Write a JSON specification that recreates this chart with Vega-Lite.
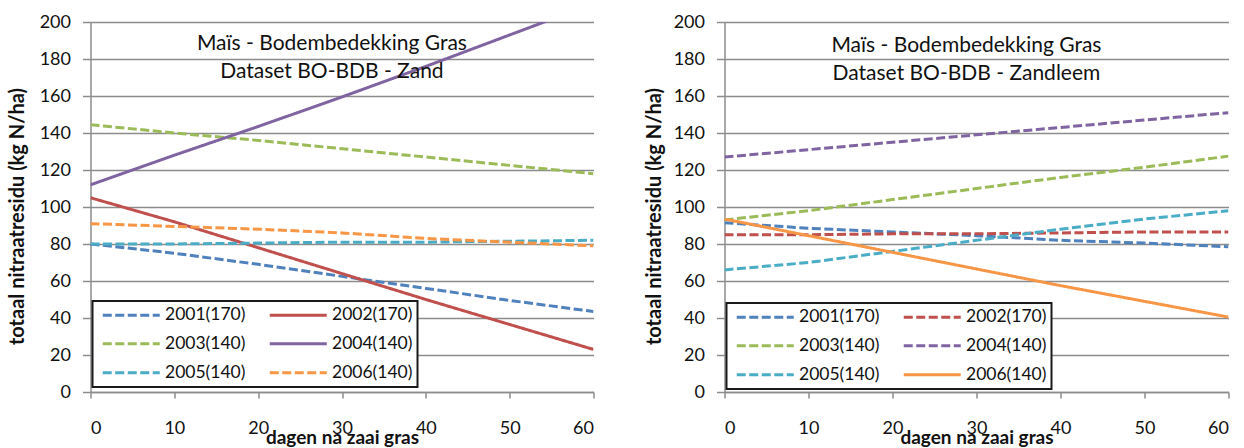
{
  "$schema": "https://vega.github.io/schema/vega-lite/v6.json",
  "padding": {"left": 7.5, "top": 13, "right": 0, "bottom": 0},
  "spacing": 50,
  "background": "white",
  "config": {
    "font": "Lato",
    "view": {"stroke": null},
    "axis": {
      "gridColor": "#8c8c8c", "gridWidth": 1.5,
      "domainColor": "#8c8c8c", "domainWidth": 1.5,
      "tickColor": "#8c8c8c", "tickWidth": 1.5,
      "labelColor": "#111111", "labelFont": "Lato", "labelFontSize": 18, "labelOverlap": false,
      "titleColor": "#111111", "titleFont": "Lato", "titleFontWeight": "bold"
    },
    "legend": {
      "strokeColor": "#1a1a1a", "strokeWidth": 2, "fillColor": "white",
      "padding": 5, "rowPadding": 10, "columnPadding": 18,
      "labelFont": "Lato", "labelFontSize": 17.5, "labelColor": "#111111", "labelOffset": 50,
      "symbolType": "M-0.7,0H10.7", "symbolSize": 100, "symbolStrokeWidth": 3
    }
  },
  "datasets": {
    "zand": [
      {"dag": 0, "residu": 80, "reeks": "2001(170)"},
      {"dag": 10, "residu": 75, "reeks": "2001(170)"},
      {"dag": 20, "residu": 69, "reeks": "2001(170)"},
      {"dag": 30, "residu": 62.5, "reeks": "2001(170)"},
      {"dag": 40, "residu": 56, "reeks": "2001(170)"},
      {"dag": 50, "residu": 49.5, "reeks": "2001(170)"},
      {"dag": 60, "residu": 43.5, "reeks": "2001(170)"},
      {"dag": 0, "residu": 105, "reeks": "2002(170)"},
      {"dag": 10, "residu": 92, "reeks": "2002(170)"},
      {"dag": 20, "residu": 78, "reeks": "2002(170)"},
      {"dag": 30, "residu": 64, "reeks": "2002(170)"},
      {"dag": 40, "residu": 50, "reeks": "2002(170)"},
      {"dag": 50, "residu": 36.5, "reeks": "2002(170)"},
      {"dag": 60, "residu": 23, "reeks": "2002(170)"},
      {"dag": 0, "residu": 144.5, "reeks": "2003(140)"},
      {"dag": 10, "residu": 140, "reeks": "2003(140)"},
      {"dag": 20, "residu": 136, "reeks": "2003(140)"},
      {"dag": 30, "residu": 131.5, "reeks": "2003(140)"},
      {"dag": 40, "residu": 127, "reeks": "2003(140)"},
      {"dag": 50, "residu": 122.5, "reeks": "2003(140)"},
      {"dag": 60, "residu": 118, "reeks": "2003(140)"},
      {"dag": 0, "residu": 112, "reeks": "2004(140)"},
      {"dag": 10, "residu": 128, "reeks": "2004(140)"},
      {"dag": 20, "residu": 143.5, "reeks": "2004(140)"},
      {"dag": 30, "residu": 159.5, "reeks": "2004(140)"},
      {"dag": 40, "residu": 176, "reeks": "2004(140)"},
      {"dag": 50, "residu": 193, "reeks": "2004(140)"},
      {"dag": 60, "residu": 210, "reeks": "2004(140)"},
      {"dag": 0, "residu": 80, "reeks": "2005(140)"},
      {"dag": 10, "residu": 80, "reeks": "2005(140)"},
      {"dag": 20, "residu": 80.5, "reeks": "2005(140)"},
      {"dag": 30, "residu": 81, "reeks": "2005(140)"},
      {"dag": 40, "residu": 81, "reeks": "2005(140)"},
      {"dag": 50, "residu": 81.5, "reeks": "2005(140)"},
      {"dag": 60, "residu": 82, "reeks": "2005(140)"},
      {"dag": 0, "residu": 91, "reeks": "2006(140)"},
      {"dag": 10, "residu": 89.5, "reeks": "2006(140)"},
      {"dag": 20, "residu": 88, "reeks": "2006(140)"},
      {"dag": 30, "residu": 86, "reeks": "2006(140)"},
      {"dag": 40, "residu": 83, "reeks": "2006(140)"},
      {"dag": 50, "residu": 81, "reeks": "2006(140)"},
      {"dag": 60, "residu": 79, "reeks": "2006(140)"}
    ],
    "zandleem": [
      {"dag": 0, "residu": 91.5, "reeks": "2001(170)"},
      {"dag": 10, "residu": 88.5, "reeks": "2001(170)"},
      {"dag": 20, "residu": 86.5, "reeks": "2001(170)"},
      {"dag": 30, "residu": 84.5, "reeks": "2001(170)"},
      {"dag": 40, "residu": 82, "reeks": "2001(170)"},
      {"dag": 50, "residu": 80.5, "reeks": "2001(170)"},
      {"dag": 60, "residu": 78.5, "reeks": "2001(170)"},
      {"dag": 0, "residu": 85, "reeks": "2002(170)"},
      {"dag": 10, "residu": 85, "reeks": "2002(170)"},
      {"dag": 20, "residu": 85.5, "reeks": "2002(170)"},
      {"dag": 30, "residu": 85.5, "reeks": "2002(170)"},
      {"dag": 40, "residu": 86, "reeks": "2002(170)"},
      {"dag": 50, "residu": 86.5, "reeks": "2002(170)"},
      {"dag": 60, "residu": 86.5, "reeks": "2002(170)"},
      {"dag": 0, "residu": 93, "reeks": "2003(140)"},
      {"dag": 10, "residu": 98, "reeks": "2003(140)"},
      {"dag": 20, "residu": 104, "reeks": "2003(140)"},
      {"dag": 30, "residu": 110, "reeks": "2003(140)"},
      {"dag": 40, "residu": 116, "reeks": "2003(140)"},
      {"dag": 50, "residu": 121.5, "reeks": "2003(140)"},
      {"dag": 60, "residu": 127.5, "reeks": "2003(140)"},
      {"dag": 0, "residu": 127, "reeks": "2004(140)"},
      {"dag": 10, "residu": 131, "reeks": "2004(140)"},
      {"dag": 20, "residu": 135, "reeks": "2004(140)"},
      {"dag": 30, "residu": 139, "reeks": "2004(140)"},
      {"dag": 40, "residu": 143, "reeks": "2004(140)"},
      {"dag": 50, "residu": 147, "reeks": "2004(140)"},
      {"dag": 60, "residu": 151, "reeks": "2004(140)"},
      {"dag": 0, "residu": 66, "reeks": "2005(140)"},
      {"dag": 10, "residu": 70, "reeks": "2005(140)"},
      {"dag": 20, "residu": 76, "reeks": "2005(140)"},
      {"dag": 30, "residu": 82, "reeks": "2005(140)"},
      {"dag": 40, "residu": 88, "reeks": "2005(140)"},
      {"dag": 50, "residu": 93.5, "reeks": "2005(140)"},
      {"dag": 60, "residu": 98, "reeks": "2005(140)"},
      {"dag": 0, "residu": 93.5, "reeks": "2006(140)"},
      {"dag": 10, "residu": 84.5, "reeks": "2006(140)"},
      {"dag": 20, "residu": 75.5, "reeks": "2006(140)"},
      {"dag": 30, "residu": 66.5, "reeks": "2006(140)"},
      {"dag": 40, "residu": 57.5, "reeks": "2006(140)"},
      {"dag": 50, "residu": 49, "reeks": "2006(140)"},
      {"dag": 60, "residu": 40.5, "reeks": "2006(140)"}
    ]
  },
  "resolve": {
    "scale": {"color": "independent", "strokeDash": "independent"},
    "legend": {"color": "independent", "strokeDash": "independent"}
  },
  "hconcat": [
    {
      "width": 503,
      "height": 370,
      "layer": [
        {
          "data": {"name": "zand"},
          "mark": {"type": "line", "strokeWidth": 3, "clip": true},
          "encoding": {
            "x": {"field": "dag", "type": "quantitative", "scale": {"domain": [0, 60], "nice": false},
              "axis": {"values": [0, 10, 20, 30, 40, 50, 60], "grid": false, "tickSize": 6, "labelPadding": 21,
                "title": "dagen na zaai gras", "titleFontSize": 19, "titleY": 51, "titleBaseline": "alphabetic"}},
            "y": {"field": "residu", "type": "quantitative", "scale": {"domain": [0, 200], "nice": false},
              "axis": {"values": [0, 20, 40, 60, 80, 100, 120, 140, 160, 180, 200], "tickCount": 11, "tickSize": 8, "labelPadding": 12,
                "title": "totaal nitraatresidu  (kg N/ha)", "titleFontSize": 20, "titleX": -73, "titleY": 194, "titleBaseline": "middle"}},
            "color": {"field": "reeks", "type": "nominal",
              "scale": {"domain": ["2001(170)", "2003(140)", "2005(140)", "2002(170)", "2004(140)", "2006(140)"],
                "range": ["#4F81BD", "#9BBB59", "#4BACC6", "#C0504D", "#8064A2", "#F79646"]},
              "legend": {"orient": "none", "legendX": 2, "legendY": 279, "columns": 2, "title": null}},
            "strokeDash": {"field": "reeks", "type": "nominal",
              "scale": {"domain": ["2001(170)", "2003(140)", "2005(140)", "2002(170)", "2004(140)", "2006(140)"],
                "range": [[9, 3.5], [9, 3.5], [9, 3.5], [1, 0], [1, 0], [9, 3.5]]},
              "legend": {"orient": "none", "legendX": 2, "legendY": 279, "columns": 2, "title": null}}
          }
        },
        {
          "data": {"values": [{}]},
          "mark": {"type": "text", "font": "Lato", "fontSize": 21, "color": "#111111", "lineHeight": 28, "align": "center", "baseline": "middle"},
          "encoding": {
            "x": {"datum": 28.8},
            "y": {"datum": 188},
            "text": {"value": ["Maïs - Bodembedekking Gras", "Dataset BO-BDB - Zand"]}
          }
        }
      ]
    },
    {
      "width": 504,
      "height": 370,
      "layer": [
        {
          "data": {"name": "zandleem"},
          "mark": {"type": "line", "strokeWidth": 3, "clip": true},
          "encoding": {
            "x": {"field": "dag", "type": "quantitative", "scale": {"domain": [0, 60], "nice": false},
              "axis": {"values": [0, 10, 20, 30, 40, 50, 60], "grid": false, "tickSize": 6, "labelPadding": 21,
                "title": "dagen na zaai gras", "titleFontSize": 19, "titleY": 51, "titleBaseline": "alphabetic"}},
            "y": {"field": "residu", "type": "quantitative", "scale": {"domain": [0, 200], "nice": false},
              "axis": {"values": [0, 20, 40, 60, 80, 100, 120, 140, 160, 180, 200], "tickCount": 11, "tickSize": 8, "labelPadding": 12,
                "title": "totaal nitraatresidu  (kg N/ha)", "titleFontSize": 20, "titleX": -70, "titleY": 194, "titleBaseline": "middle"}},
            "color": {"field": "reeks", "type": "nominal",
              "scale": {"domain": ["2001(170)", "2003(140)", "2005(140)", "2002(170)", "2004(140)", "2006(140)"],
                "range": ["#4F81BD", "#9BBB59", "#4BACC6", "#C0504D", "#8064A2", "#F79646"]},
              "legend": {"orient": "none", "legendX": 2, "legendY": 281, "columns": 2, "title": null}},
            "strokeDash": {"field": "reeks", "type": "nominal",
              "scale": {"domain": ["2001(170)", "2003(140)", "2005(140)", "2002(170)", "2004(140)", "2006(140)"],
                "range": [[9, 3.5], [9, 3.5], [9, 3.5], [9, 3.5], [9, 3.5], [1, 0]]},
              "legend": {"orient": "none", "legendX": 2, "legendY": 281, "columns": 2, "title": null}}
          }
        },
        {
          "data": {"values": [{}]},
          "mark": {"type": "text", "font": "Lato", "fontSize": 21, "color": "#111111", "lineHeight": 28, "align": "center", "baseline": "middle"},
          "encoding": {
            "x": {"datum": 28.8},
            "y": {"datum": 187},
            "text": {"value": ["Maïs - Bodembedekking Gras", "Dataset BO-BDB - Zandleem"]}
          }
        }
      ]
    }
  ]
}
